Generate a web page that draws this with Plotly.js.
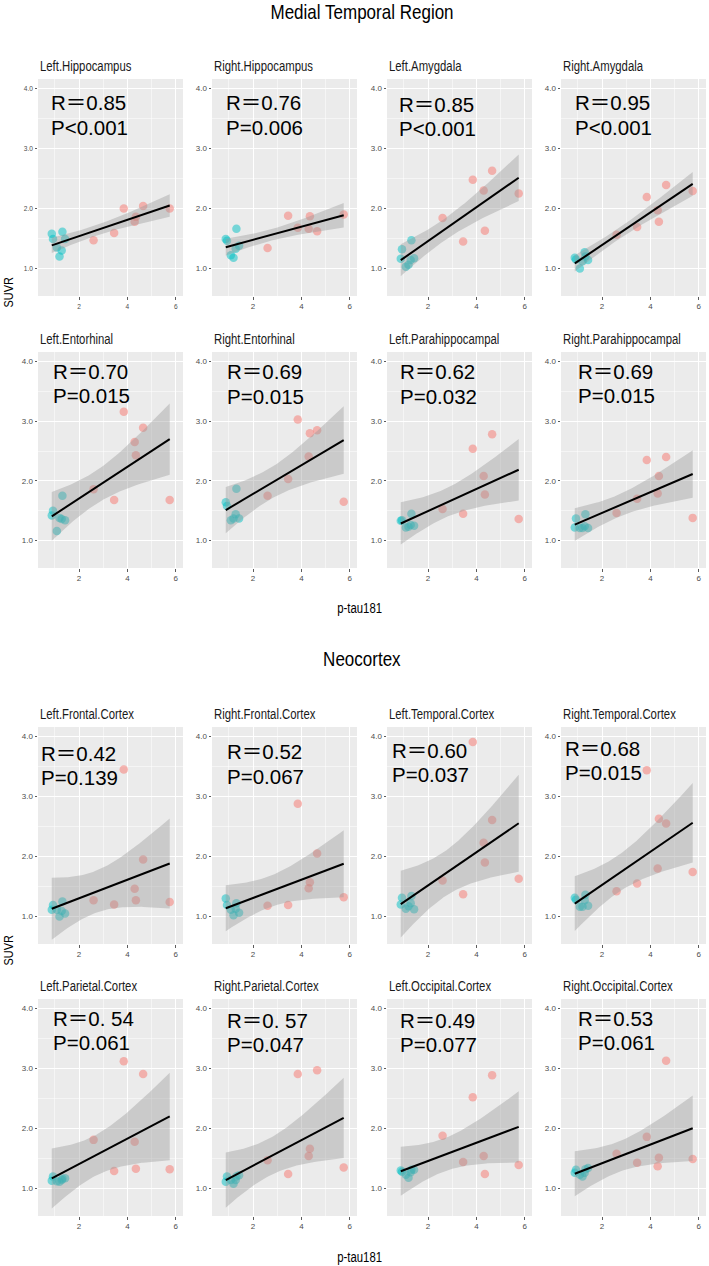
<!DOCTYPE html>
<html>
<head>
<meta charset="utf-8">
<script src="https://cdn.plot.ly/plotly-3.0.1.min.js"></script>
<style>html,body{margin:0;padding:0;background:#fff;}#chart{width:709px;height:1266px;}</style>
</head>
<body>
<div id="chart"></div>
<script>
// ---------------- DATA ----------------
const groupTitles = ["Medial Temporal Region", "Neocortex"];
const regions = [
  "Left.Hippocampus", "Right.Hippocampus", "Left.Amygdala", "Right.Amygdala",
  "Left.Entorhinal", "Right.Entorhinal", "Left.Parahippocampal", "Right.Parahippocampal",
  "Left.Frontal.Cortex", "Right.Frontal.Cortex", "Left.Temporal.Cortex", "Right.Temporal.Cortex",
  "Left.Parietal.Cortex", "Right.Parietal.Cortex", "Left.Occipital.Cortex", "Right.Occipital.Cortex"
];
// p-tau181 values (x): controls (cyan) and patients (red)
const ptauControl = [0.87, 0.92, 1.08, 1.19, 1.28, 1.31, 1.42];
const ptauPatient = [2.6, 3.45, 3.85, 4.3, 4.35, 4.65, 5.75];

// SUVR values per region: controls
const ctrlLeftHippocampus     = [1.58, 1.49, 1.35, 1.20, 1.30, 1.61, 1.49];
const ctrlRightHippocampus    = [1.49, 1.46, 1.22, 1.18, 1.33, 1.66, 1.38];
const ctrlLeftAmygdala        = [1.16, 1.32, 1.03, 1.06, 1.14, 1.47, 1.17];
const ctrlRightAmygdala       = [1.18, 1.15, 1.00, 1.12, 1.27, 1.20, 1.14];
const ctrlLeftEntorhinal      = [1.42, 1.50, 1.16, 1.38, 1.36, 1.75, 1.34];
const ctrlRightEntorhinal     = [1.64, 1.58, 1.34, 1.37, 1.44, 1.87, 1.37];
const ctrlLeftParahipp        = [1.33, 1.34, 1.22, 1.23, 1.26, 1.45, 1.25];
const ctrlRightParahipp       = [1.22, 1.37, 1.21, 1.21, 1.24, 1.44, 1.21];
const ctrlLeftFrontal         = [1.11, 1.19, 1.11, 1.00, 1.09, 1.25, 1.05];
const ctrlRightFrontal        = [1.30, 1.19, 1.11, 1.02, 1.13, 1.22, 1.06];
const ctrlLeftTemporal        = [1.20, 1.31, 1.13, 1.17, 1.22, 1.34, 1.12];
const ctrlRightTemporal       = [1.31, 1.28, 1.16, 1.16, 1.27, 1.36, 1.18];
const ctrlLeftParietal        = [1.13, 1.20, 1.12, 1.11, 1.14, 1.16, 1.17];
const ctrlRightParietal       = [1.11, 1.20, 1.14, 1.08, 1.14, 1.20, 1.22];
const ctrlLeftOccipital       = [1.30, 1.28, 1.23, 1.18, 1.27, 1.31, 1.31];
const ctrlRightOccipital      = [1.26, 1.31, 1.23, 1.20, 1.26, 1.32, 1.34];
// SUVR values per region: patients
const ptLeftHippocampus       = [1.47, 1.59, 2.00, 1.78, 1.86, 2.04, 2.00];
const ptRightHippocampus      = [1.34, 1.88, 1.68, 1.66, 1.87, 1.62, 1.90];
const ptLeftAmygdala          = [1.84, 1.45, 2.48, 2.30, 1.63, 2.63, 2.25];
const ptRightAmygdala         = [1.56, 1.69, 2.19, 1.97, 1.78, 2.39, 2.29];
const ptLeftEntorhinal        = [1.86, 1.68, 3.16, 2.65, 2.43, 2.89, 1.68];
const ptRightEntorhinal       = [1.75, 2.03, 3.03, 2.41, 2.80, 2.85, 1.65];
const ptLeftParahipp          = [1.53, 1.45, 2.54, 2.08, 1.77, 2.78, 1.36];
const ptRightParahipp         = [1.46, 1.70, 2.35, 1.79, 2.08, 2.40, 1.38];
const ptLeftFrontal           = [1.27, 1.20, 3.45, 1.46, 1.27, 1.95, 1.24];
const ptRightFrontal          = [1.18, 1.19, 2.88, 1.47, 1.57, 2.05, 1.32];
const ptLeftTemporal          = [1.60, 1.37, 3.91, 2.23, 1.90, 2.61, 1.63];
const ptRightTemporal         = [1.42, 1.55, 3.44, 1.80, 2.63, 2.55, 1.74];
const ptLeftParietal          = [1.81, 1.29, 3.12, 1.78, 1.33, 2.91, 1.32];
const ptRightParietal         = [1.47, 1.24, 2.91, 1.54, 1.66, 2.97, 1.35];
const ptLeftOccipital         = [1.88, 1.44, 2.52, 1.54, 1.24, 2.89, 1.39];
const ptRightOccipital        = [1.58, 1.43, 1.86, 1.37, 1.51, 3.13, 1.49];

const rLabels = ["0.85", "0.76", "0.85", "0.95", "0.70", "0.69", "0.62", "0.69",
                 "0.42", "0.52", "0.60", "0.68", "0. 54", "0. 57", "0.49", "0.53"];
const pLabels = ["<0.001", "=0.006", "<0.001", "<0.001", "=0.015", "=0.015", "=0.032", "=0.015",
                 "=0.139", "=0.067", "=0.037", "=0.015", "=0.061", "=0.047", "=0.077", "=0.061"];
const xTickVals = [2, 4, 6];
const yTickVals = [1, 2, 3, 4];

// ---------------- LAYOUT HELPERS ----------------
const W = 709, H = 1266;
const controlSets = [ctrlLeftHippocampus, ctrlRightHippocampus, ctrlLeftAmygdala, ctrlRightAmygdala,
  ctrlLeftEntorhinal, ctrlRightEntorhinal, ctrlLeftParahipp, ctrlRightParahipp,
  ctrlLeftFrontal, ctrlRightFrontal, ctrlLeftTemporal, ctrlRightTemporal,
  ctrlLeftParietal, ctrlRightParietal, ctrlLeftOccipital, ctrlRightOccipital];
const patientSets = [ptLeftHippocampus, ptRightHippocampus, ptLeftAmygdala, ptRightAmygdala,
  ptLeftEntorhinal, ptRightEntorhinal, ptLeftParahipp, ptRightParahipp,
  ptLeftFrontal, ptRightFrontal, ptLeftTemporal, ptRightTemporal,
  ptLeftParietal, ptRightParietal, ptLeftOccipital, ptRightOccipital];

const colPx = [[38, 183], [212, 357], [387, 532], [561, 706]];
const rowPx = [[79, 296], [352, 568], [727, 944], [999, 1216]];
// label offsets inside each panel (px from left, px from top)
const labelOffset = [[11,24],[12,24],[10,25],[12,24],[13,19],[13,20],[11,20],[15,19],
                     [1,26],[13,25],[3,23],[2,21],[13,19],[13,21],[11,21],[15,19]];

const narrow = "Liberation Sans, Arial, sans-serif";
const regular = "Liberation Sans, Arial, Noto Sans CJK SC, sans-serif";
const NARROW_SCALE = 0.81;

const traces = [];
const narrowAnn = {};   // annotation index -> "left" | "center"
const layout = {
  width: W, height: H,
  margin: {l: 0, r: 0, t: 0, b: 0},
  paper_bgcolor: "#FFFFFF",
  plot_bgcolor: "#EBEBEB",
  showlegend: false,
  hovermode: false,
  annotations: []
};

function fit(xs, ys) {
  const n = xs.length;
  const mx = xs.reduce((a, b) => a + b, 0) / n;
  const my = ys.reduce((a, b) => a + b, 0) / n;
  let sxx = 0, sxy = 0;
  for (let i = 0; i < n; i++) { sxx += (xs[i]-mx)**2; sxy += (xs[i]-mx)*(ys[i]-my); }
  const b = sxy / sxx, a = my - b * mx;
  let sse = 0;
  for (let i = 0; i < n; i++) sse += (ys[i] - a - b*xs[i])**2;
  const s = Math.sqrt(sse / (n - 2));
  const t = 2.178813; // t(0.975, 12)
  const xmin = Math.min(...xs), xmax = Math.max(...xs);
  const gx = [], gy = [], lo = [], hi = [];
  for (let k = 0; k <= 80; k++) {
    const x = xmin + (xmax - xmin) * k / 80;
    const y = a + b * x;
    const se = s * Math.sqrt(1/n + (x-mx)**2 / sxx);
    gx.push(x); gy.push(y); lo.push(y - t*se); hi.push(y + t*se);
  }
  return {gx, gy, lo, hi};
}

function addAnn(obj, narrowMode) {
  if (narrowMode) narrowAnn[layout.annotations.length] = narrowMode;
  layout.annotations.push(obj);
}

for (let i = 0; i < 16; i++) {
  const r = Math.floor(i / 4), c = i % 4;
  const xa = i === 0 ? "x" : "x" + (i + 1);
  const ya = i === 0 ? "y" : "y" + (i + 1);
  const xKey = i === 0 ? "xaxis" : "xaxis" + (i + 1);
  const yKey = i === 0 ? "yaxis" : "yaxis" + (i + 1);
  const [x0, x1] = colPx[c], [y0, y1] = rowPx[r];

  layout[xKey] = {
    domain: [x0 / W, x1 / W], anchor: ya, range: [0.3, 6.3],
    tickvals: xTickVals, ticktext: xTickVals.map(String),
    ticks: "outside", ticklen: 2.5, tickwidth: 0.8, tickcolor: "#333333",
    tickfont: {family: narrow, size: 8, color: "#4D4D4D"},
    showgrid: true, gridcolor: "#FFFFFF", gridwidth: 1,
    minor: {tickvals: [1, 3, 5], showgrid: true, gridcolor: "#FFFFFF", gridwidth: 0.5, ticks: ""},
    zeroline: false, showline: false, fixedrange: true
  };
  layout[yKey] = {
    domain: [1 - y1 / H, 1 - y0 / H], anchor: xa, range: [0.54, 4.16],
    tickvals: yTickVals, ticktext: yTickVals.map(v => v.toFixed(1)),
    ticks: "outside", ticklen: 2.5, tickwidth: 0.8, tickcolor: "#333333",
    tickfont: {family: narrow, size: 8, color: "#4D4D4D"},
    showgrid: true, gridcolor: "#FFFFFF", gridwidth: 1,
    minor: {tickvals: [1.5, 2.5, 3.5], showgrid: true, gridcolor: "#FFFFFF", gridwidth: 0.5, ticks: ""},
    zeroline: false, showline: false, fixedrange: true
  };

  const cy = controlSets[i], py = patientSets[i];
  traces.push({type: "scatter", mode: "markers", x: ptauControl, y: cy, xaxis: xa, yaxis: ya,
    marker: {color: "rgba(0,191,196,0.5)", size: 8.5, line: {width: 0}}});
  traces.push({type: "scatter", mode: "markers", x: ptauPatient, y: py, xaxis: xa, yaxis: ya,
    marker: {color: "rgba(248,118,109,0.5)", size: 8.5, line: {width: 0}}});

  const f = fit(ptauControl.concat(ptauPatient), cy.concat(py));
  traces.push({type: "scatter", mode: "lines", x: f.gx.concat(f.gx.slice().reverse()),
    y: f.hi.concat(f.lo.slice().reverse()), xaxis: xa, yaxis: ya,
    fill: "toself", fillcolor: "rgba(153,153,153,0.4)", line: {width: 0}});
  traces.push({type: "scatter", mode: "lines", x: f.gx, y: f.gy, xaxis: xa, yaxis: ya,
    line: {color: "#000000", width: 2}});

  // strip title
  addAnn({xref: "paper", yref: "paper", x: x0 / W, y: 1 - (y0 - 13) / H,
    xanchor: "left", yanchor: "middle", showarrow: false, text: regions[i],
    font: {family: narrow, size: 14, color: "#1A1A1A"}}, "left");
  // R and P labels
  const [ox, oy] = labelOffset[i];
  addAnn({xref: "paper", yref: "paper", x: (x0 + ox) / W, y: 1 - (y0 + oy) / H,
    xanchor: "left", yanchor: "middle", showarrow: false, text: "R＝" + rLabels[i],
    font: {family: regular, size: 20.5, color: "#000000"}}, null);
  addAnn({xref: "paper", yref: "paper", x: (x0 + ox) / W, y: 1 - (y0 + oy + 24.5) / H,
    xanchor: "left", yanchor: "middle", showarrow: false, text: "P" + pLabels[i],
    font: {family: regular, size: 20.5, color: "#000000"}}, null);
}

// group titles, axis titles
const groupTitleY = [12, 658];
const xTitleY = [608, 1257];
const yTitleY = [292, 950];
for (let g = 0; g < 2; g++) {
  addAnn({xref: "paper", yref: "paper", x: 361.5 / W, y: 1 - groupTitleY[g] / H,
    xanchor: "center", yanchor: "middle", showarrow: false, text: groupTitles[g],
    font: {family: narrow, size: 21, color: "#000000"}}, "center");
  addAnn({xref: "paper", yref: "paper", x: 359.5 / W, y: 1 - xTitleY[g] / H,
    xanchor: "center", yanchor: "middle", showarrow: false, text: "p-tau181",
    font: {family: narrow, size: 14, color: "#000000"}}, "center");
  addAnn({xref: "paper", yref: "paper", x: 8 / W, y: 1 - yTitleY[g] / H,
    xanchor: "center", yanchor: "middle", showarrow: false, text: "SUVR", textangle: -90,
    font: {family: narrow, size: 13.5, color: "#000000"}}, "center");
}

function condense(el, k, mode) {
  const w = el.getComputedTextLength();
  if (w > 0) {
    el.setAttribute("textLength", (w * k).toFixed(2));
    el.setAttribute("lengthAdjust", "spacingAndGlyphs");
    if (mode === "left") {
      const anchor = el.getAttribute("text-anchor") || getComputedStyle(el).textAnchor;
      const x = parseFloat(el.getAttribute("x") || "0");
      if (anchor === "middle") el.setAttribute("x", (x - w * (1 - k) / 2).toFixed(2));
      else if (anchor === "end") el.setAttribute("x", (x - w * (1 - k)).toFixed(2));
    }
  }
}

Plotly.newPlot("chart", traces, layout, {staticPlot: true, displayModeBar: false}).then(gd => {
  gd.querySelectorAll(".annotation").forEach(a => {
    const idx = +a.getAttribute("data-index");
    const mode = narrowAnn[idx];
    if (mode) {
      const t = a.querySelector("text.annotation-text");
      if (t) condense(t, NARROW_SCALE, mode);
    }
  });
  gd.querySelectorAll(".xtick text, .ytick text").forEach(t => condense(t, 0.82, "center"));
});
</script>
</body>
</html>
